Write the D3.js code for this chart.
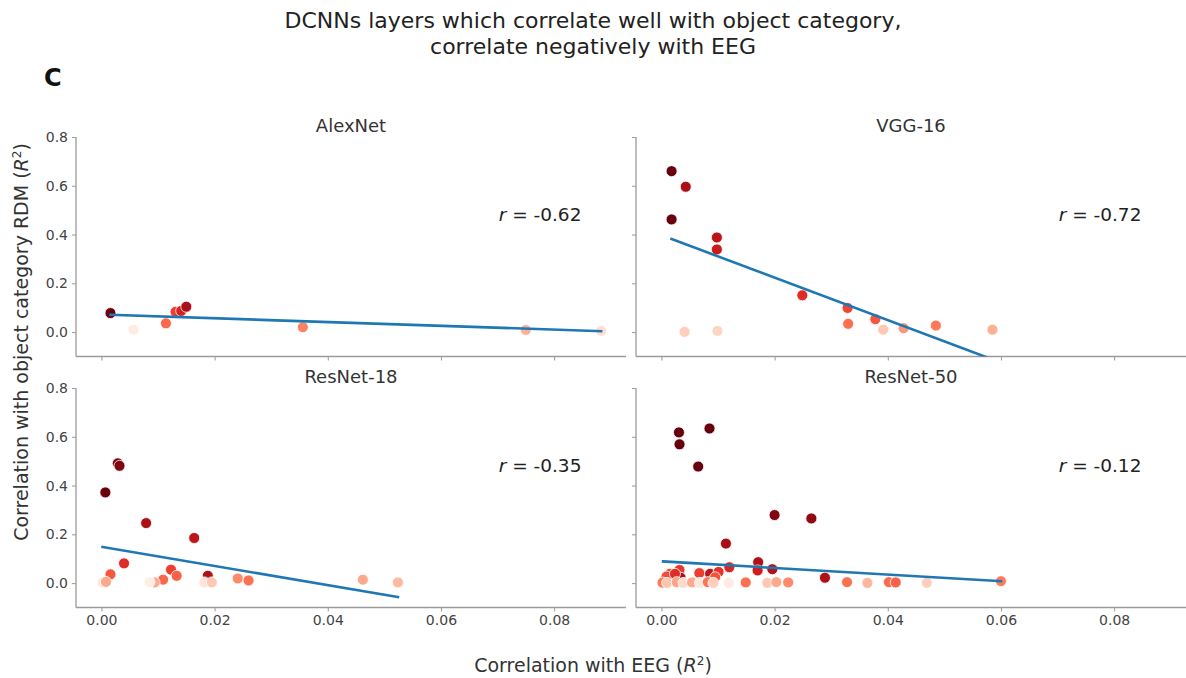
<!DOCTYPE html>
<html>
<head>
<meta charset="utf-8">
<script src="https://cdn.jsdelivr.net/npm/d3@7"></script>
<style>
  html, body { margin: 0; padding: 0; background: #fff; }
  svg { display: block; font-family: "DejaVu Sans", sans-serif; }
</style>
</head>
<body>
<svg id="chart" width="1186" height="678"></svg>
<script>
// Per-layer results: EEG correlation (R²), category-RDM correlation (R²), relative layer depth (0 = first, 1 = last)
const alexnetEEG   = [0.0016, 0.0057, 0.0114, 0.0131, 0.0141, 0.0150, 0.0356, 0.0750, 0.0883];
const alexnetCat   = [0.078, 0.010, 0.036, 0.083, 0.087, 0.104, 0.020, 0.009, 0.005];
const alexnetDepth = [1.00, 0.05, 0.50, 0.62, 0.72, 0.85, 0.42, 0.28, 0.12];

const vggEEG   = [0.0018, 0.0043, 0.0018, 0.0041, 0.0098, 0.0098, 0.0099, 0.0249, 0.0329, 0.0330, 0.0378, 0.0392, 0.0428, 0.0485, 0.0585];
const vggCat   = [0.660, 0.596, 0.462, 0.001, 0.388, 0.339, 0.005, 0.151, 0.099, 0.034, 0.053, 0.010, 0.016, 0.027, 0.010];
const vggDepth = [1.00, 0.85, 1.00, 0.18, 0.80, 0.76, 0.16, 0.68, 0.60, 0.48, 0.55, 0.20, 0.36, 0.45, 0.28];

const resnet18EEG   = [0.0007, 0.0029, 0.0032, 0.0016, 0.0040, 0.0079, 0.0164, 0.0123, 0.0133, 0.0109, 0.0094, 0.0188, 0.0182, 0.0195, 0.0241, 0.0260, 0.0462, 0.0524, 0.0002, 0.0008, 0.0085];
const resnet18Cat   = [0.372, 0.491, 0.481, 0.036, 0.081, 0.246, 0.185, 0.055, 0.030, 0.014, 0.003, 0.030, 0.003, 0.003, 0.019, 0.011, 0.014, 0.003, 0.002, 0.005, 0.004];
const resnet18Depth = [1.00, 0.98, 0.95, 0.55, 0.68, 0.85, 0.80, 0.62, 0.52, 0.50, 0.30, 0.84, 0.10, 0.20, 0.40, 0.48, 0.30, 0.25, 0.08, 0.30, 0.04];

const resnet50EEG   = [0.0031, 0.0032, 0.0085, 0.0065, 0.0200, 0.0265, 0.0114, 0.0171, 0.0170, 0.0196, 0.0120, 0.0289,
                       0.0067, 0.0086, 0.0101, 0.0095, 0.0032, 0.0034, 0.0015, 0.0009, 0.0024, 0.0002, 0.0010, 0.0027,
                       0.0039, 0.0054, 0.0068, 0.0082, 0.0092, 0.0119, 0.0149, 0.0187, 0.0203, 0.0224, 0.0328, 0.0364,
                       0.0402, 0.0414, 0.0469, 0.0600];
const resnet50Cat   = [0.618, 0.569, 0.634, 0.478, 0.279, 0.265, 0.162, 0.086, 0.052, 0.057, 0.065, 0.022,
                       0.041, 0.038, 0.046, 0.024, 0.054, 0.022, 0.038, 0.027, 0.038, 0.002, 0.001, 0.004,
                       0.001, 0.003, 0.001, 0.004, 0.001, 0.001, 0.003, 0.001, 0.004, 0.003, 0.004, 0.001,
                       0.004, 0.003, 0.001, 0.008];
const resnet50Depth = [1.00, 1.00, 1.00, 1.00, 0.95, 0.92, 0.86, 0.84, 0.74, 0.82, 0.70, 0.84,
                       0.62, 0.80, 0.66, 0.56, 0.64, 0.86, 0.60, 0.58, 0.68, 0.45, 0.22, 0.32,
                       0.14, 0.30, 0.08, 0.46, 0.18, 0.06, 0.48, 0.20, 0.30, 0.40, 0.48, 0.26,
                       0.50, 0.52, 0.18, 0.44];

// Least-squares fit lines: [x start, y start, x end, y end]
const alexnetFit  = [0.0016, 0.071, 0.0883, 0.004];
const vggFit      = [0.0018, 0.382, 0.0585, -0.112];
const resnet18Fit = [0.0002, 0.148, 0.0524, -0.057];
const resnet50Fit = [0.0003, 0.089, 0.0600, 0.008];

const modelNames = ["AlexNet", "VGG-16", "ResNet-18", "ResNet-50"];
const rValues    = ["-0.62", "-0.72", "-0.35", "-0.12"];

const xTicks = [0.00, 0.02, 0.04, 0.06, 0.08];
const yTicks = [0.0, 0.2, 0.4, 0.6, 0.8];
const xDomain = [-0.00449, 0.0927];
const yDomain = [-0.1, 0.8];

const panels = [
  { name: modelNames[0], r: rValues[0], xs: alexnetEEG,  ys: alexnetCat,  ds: alexnetDepth,  fit: alexnetFit,  col: 0, row: 0 },
  { name: modelNames[1], r: rValues[1], xs: vggEEG,      ys: vggCat,      ds: vggDepth,      fit: vggFit,      col: 1, row: 0 },
  { name: modelNames[2], r: rValues[2], xs: resnet18EEG, ys: resnet18Cat, ds: resnet18Depth, fit: resnet18Fit, col: 0, row: 1 },
  { name: modelNames[3], r: rValues[3], xs: resnet50EEG, ys: resnet50Cat, ds: resnet50Depth, fit: resnet50Fit, col: 1, row: 1 }
];

const svg = d3.select("#chart");
const W = 550, H = 219.5;
const colLeft = [76, 636];
const rowTop = [137, 388];
const spineColor = "#9a9a9a";
const textColor = "#333";
const color = d3.scaleSequential(d3.interpolateReds).domain([0, 1]);

// Figure title and panel letter
svg.append("text").attr("x", 593).attr("y", 28).attr("text-anchor", "middle")
  .attr("font-size", 22).attr("fill", "#222")
  .text("DCNNs layers which correlate well with object category,");
svg.append("text").attr("x", 593).attr("y", 54).attr("text-anchor", "middle")
  .attr("font-size", 22).attr("fill", "#222")
  .text("correlate negatively with EEG");
svg.append("text").attr("x", 44).attr("y", 86)
  .attr("font-size", 24).attr("font-weight", "bold").attr("fill", "#111").text("C");

const defs = svg.append("defs");

panels.forEach((p, i) => {
  const x0 = colLeft[p.col], y0 = rowTop[p.row];
  const x = d3.scaleLinear().domain(xDomain).range([0, W]);
  const y = d3.scaleLinear().domain(yDomain).range([H, 0]);
  const g = svg.append("g").attr("transform", `translate(${x0},${y0})`);

  defs.append("clipPath").attr("id", "clip" + i)
    .append("rect").attr("x", 0).attr("y", 0).attr("width", W).attr("height", H);

  // Axes: labels only on the outer edge of the grid
  const xAxis = d3.axisBottom(x).tickValues(xTicks).tickSize(4).tickPadding(4)
    .tickFormat(p.row === 1 ? d3.format(".2f") : () => "");
  const yAxis = d3.axisLeft(y).tickValues(yTicks).tickSize(4).tickPadding(4)
    .tickFormat(p.col === 0 ? d3.format(".1f") : () => "");

  const gx = g.append("g").attr("transform", `translate(0,${H})`).call(xAxis);
  const gy = g.append("g").call(yAxis);
  [gx, gy].forEach(a => {
    a.select(".domain").attr("stroke", spineColor).attr("stroke-width", 1.3);
    a.selectAll(".tick line").attr("stroke", spineColor).attr("stroke-width", 1);
    a.selectAll(".tick text").attr("fill", "#444").attr("font-size", 14)
      .attr("font-family", "DejaVu Sans, sans-serif");
  });
  // keep spines flush with the plot edge (no outer end ticks)
  gx.select(".domain").attr("d", `M0,0H${W}`);
  gy.select(".domain").attr("d", `M0,0V${H}`);

  // Panel title
  g.append("text").attr("x", W / 2).attr("y", -5).attr("text-anchor", "middle")
    .attr("font-size", 18).attr("fill", textColor).text(p.name);

  const plot = g.append("g").attr("clip-path", `url(#clip${i})`);

  // Layer points, shaded by depth
  const pts = p.xs.map((v, k) => ({ x: v, y: p.ys[k], d: p.ds[k] }));
  plot.selectAll("circle").data(pts).join("circle")
    .attr("cx", d => x(d.x)).attr("cy", d => y(d.y)).attr("r", 5.5)
    .attr("fill", d => color(d.d))
    .attr("stroke", "#fff").attr("stroke-width", 0.8);

  // Regression line
  plot.append("line")
    .attr("x1", x(p.fit[0])).attr("y1", y(p.fit[1]))
    .attr("x2", x(p.fit[2])).attr("y2", y(p.fit[3]))
    .attr("stroke", "#1f77b4").attr("stroke-width", 2.6).attr("stroke-linecap", "square");

  // Correlation coefficient
  const rt = g.append("text").attr("x", x(0.0702)).attr("y", y(0.455))
    .attr("font-size", 18.5).attr("fill", "#222");
  rt.append("tspan").attr("font-style", "italic").text("r");
  rt.append("tspan").text(" = " + p.r);
});

// Shared axis labels
const yl = svg.append("text").attr("transform", "translate(28,342) rotate(-90)")
  .attr("text-anchor", "middle").attr("font-size", 19).attr("fill", textColor);
yl.append("tspan").text("Correlation with object category RDM (");
yl.append("tspan").attr("font-style", "italic").text("R");
yl.append("tspan").attr("font-size", 12).attr("dy", -7).text("2");
yl.append("tspan").attr("dy", 7).text(")");

const xl = svg.append("text").attr("x", 593).attr("y", 672)
  .attr("text-anchor", "middle").attr("font-size", 19).attr("fill", textColor);
xl.append("tspan").text("Correlation with EEG (");
xl.append("tspan").attr("font-style", "italic").text("R");
xl.append("tspan").attr("font-size", 12).attr("dy", -7).text("2");
xl.append("tspan").attr("dy", 7).text(")");
</script>
</body>
</html>
